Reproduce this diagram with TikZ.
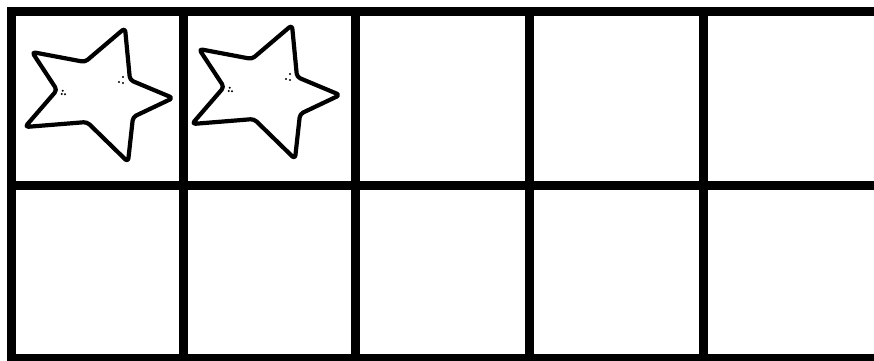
\documentclass[tikz,border=0pt]{standalone}
\usepackage{tikz}

\tikzset{
    frame/.style={black, line width=9pt, line cap=rect},
    starline/.style={black, fill=white, line width=4.2pt, rounded corners=3.5pt, line join=round}
}

\begin{document}
\begin{tikzpicture}[x=1pt, y=-1pt]
    \useasboundingbox (0,0) rectangle (874,360);
    \fill[white] (0,0) rectangle (874,360);
    % ten frame
    \foreach \i in {11,183,355,529,703,878}{\draw[frame] (\i,11) -- (\i,358);}
    \foreach \j in {11,185,358}{\draw[frame] (11,\j) -- (878,\j);}
    % stars
    \foreach \dx/\dy in {0/0,167/-3}{
        \begin{scope}[shift={(\dx,\dy)}]
            \draw[starline] (125,28) -- (130,80) -- (173,98) -- (133,117) -- (128,162)
                -- (87,122) -- (25,127) -- (57,90) -- (32,52) -- (85,62) -- cycle;
            \foreach \px/\py in {62.7/90.7,61.7/94,65/94.3,123/77,119/82,123/83}{\fill[black] (\px,\py) circle (1.1pt);}
        \end{scope}
    }
\end{tikzpicture}
\end{document}
